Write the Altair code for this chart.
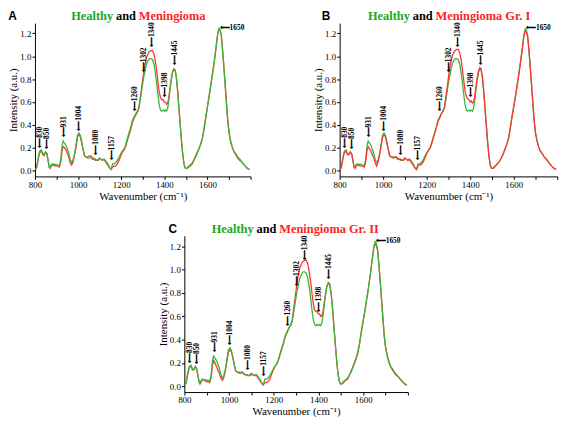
import altair as alt
import pandas as pd

# ---------------- data ----------------
wavenumber = [803, 808, 815, 822, 830, 836, 842, 849, 855, 860, 866, 870, 876, 882, 890, 898,
              906, 913, 920, 926, 931, 937, 944, 950, 957, 963, 970, 976, 983, 990, 997, 1004,
              1010, 1017, 1024, 1030, 1037, 1045, 1052, 1060, 1066, 1073, 1080, 1087, 1094, 1100,
              1107, 1113, 1120, 1127, 1134, 1141, 1148, 1153, 1160, 1167, 1174, 1182, 1190, 1198,
              1205, 1213, 1220, 1228, 1236, 1244, 1252, 1260, 1268, 1275, 1282, 1290, 1297, 1303,
              1310, 1317, 1324, 1331, 1338, 1345, 1352, 1358, 1364, 1370, 1376, 1382, 1388, 1394,
              1400, 1405, 1410, 1415, 1420, 1426, 1432, 1438, 1444, 1450, 1456, 1462, 1468, 1474,
              1480, 1486, 1492, 1498, 1505, 1512, 1520, 1530, 1540, 1550, 1560, 1568, 1576, 1584,
              1592, 1600, 1608, 1616, 1624, 1632, 1640, 1647, 1653, 1658, 1664, 1670, 1676, 1682,
              1688, 1694, 1700, 1706, 1714, 1722, 1731, 1740, 1750, 1758, 1766, 1775, 1785, 1795]

healthy = [0.01, 0.03, 0.11, 0.17, 0.18, 0.15, 0.14, 0.165, 0.15, 0.10, 0.03, 0.03, 0.05, 0.06, 0.055, 0.055,
           0.05, 0.04, 0.10, 0.22, 0.26, 0.24, 0.22, 0.19, 0.15, 0.10, 0.07, 0.09, 0.14, 0.22, 0.31, 0.33,
           0.31, 0.25, 0.18, 0.13, 0.12, 0.11, 0.11, 0.12, 0.10, 0.10, 0.09, 0.09, 0.10, 0.11,
           0.10, 0.09, 0.10, 0.09, 0.07, 0.05, 0.02, 0.01, 0.06, 0.06, 0.07, 0.09, 0.12, 0.15,
           0.17, 0.19, 0.22, 0.28, 0.33, 0.38, 0.44, 0.47, 0.50, 0.52, 0.55, 0.64, 0.73, 0.80,
           0.87, 0.93, 0.96, 0.98, 0.98, 0.97, 0.93, 0.86, 0.77, 0.67, 0.58, 0.53, 0.52, 0.53,
           0.52, 0.53, 0.52, 0.54, 0.60, 0.70, 0.79, 0.86, 0.89, 0.88, 0.81, 0.69, 0.54, 0.39,
           0.25, 0.13, 0.05, 0.02, 0.02, 0.04, 0.05, 0.07, 0.10, 0.14, 0.19, 0.23, 0.28, 0.37,
           0.47, 0.56, 0.65, 0.75, 0.85, 0.96, 1.08, 1.19, 1.24, 1.23, 1.18, 1.05, 0.90, 0.74,
           0.58, 0.43, 0.33, 0.27, 0.21, 0.17, 0.15, 0.12, 0.10, 0.08, 0.06, 0.04, 0.02, 0.01]

meningioma = [0.01, 0.03, 0.10, 0.16, 0.17, 0.14, 0.13, 0.16, 0.15, 0.10, 0.04, 0.02, 0.04, 0.05, 0.045, 0.04,
              0.04, 0.03, 0.08, 0.18, 0.21, 0.20, 0.18, 0.15, 0.12, 0.07, 0.05, 0.07, 0.13, 0.20, 0.29, 0.32,
              0.30, 0.24, 0.18, 0.13, 0.12, 0.12, 0.13, 0.13, 0.11, 0.11, 0.10, 0.09, 0.09, 0.11,
              0.10, 0.09, 0.10, 0.08, 0.06, 0.04, 0.02, 0.01, 0.03, 0.04, 0.04, 0.06, 0.09, 0.13,
              0.16, 0.18, 0.21, 0.26, 0.31, 0.36, 0.42, 0.46, 0.49, 0.51, 0.55, 0.66, 0.76, 0.84,
              0.92, 0.99, 1.02, 1.04, 1.05, 1.05, 1.02, 0.96, 0.88, 0.78, 0.69, 0.64, 0.62, 0.62,
              0.60, 0.60, 0.58, 0.59, 0.63, 0.72, 0.80, 0.86, 0.89, 0.88, 0.81, 0.69, 0.54, 0.39,
              0.25, 0.13, 0.05, 0.02, 0.02, 0.03, 0.04, 0.06, 0.11, 0.15, 0.19, 0.23, 0.28, 0.36,
              0.46, 0.56, 0.66, 0.76, 0.86, 0.96, 1.08, 1.19, 1.24, 1.23, 1.19, 1.06, 0.91, 0.76,
              0.60, 0.45, 0.34, 0.27, 0.21, 0.17, 0.14, 0.11, 0.09, 0.08, 0.06, 0.04, 0.02, 0.01]

meningioma_gr1 = [0.01, 0.03, 0.11, 0.16, 0.17, 0.14, 0.14, 0.16, 0.15, 0.10, 0.04, 0.02, 0.04, 0.05, 0.045, 0.04,
                  0.04, 0.03, 0.08, 0.18, 0.21, 0.19, 0.17, 0.14, 0.11, 0.07, 0.04, 0.07, 0.13, 0.21, 0.29, 0.31,
                  0.30, 0.24, 0.18, 0.13, 0.12, 0.12, 0.12, 0.12, 0.11, 0.10, 0.10, 0.09, 0.09, 0.11,
                  0.10, 0.09, 0.10, 0.08, 0.06, 0.04, 0.02, 0.01, 0.04, 0.05, 0.05, 0.07, 0.10, 0.14,
                  0.17, 0.19, 0.22, 0.27, 0.32, 0.37, 0.43, 0.46, 0.50, 0.52, 0.56, 0.67, 0.77, 0.86,
                  0.94, 1.00, 1.03, 1.05, 1.06, 1.06, 1.03, 0.97, 0.89, 0.79, 0.70, 0.65, 0.63, 0.62,
                  0.60, 0.61, 0.59, 0.60, 0.64, 0.73, 0.81, 0.87, 0.90, 0.89, 0.82, 0.70, 0.55, 0.40,
                  0.25, 0.13, 0.05, 0.02, 0.02, 0.03, 0.05, 0.07, 0.10, 0.14, 0.19, 0.23, 0.28, 0.37,
                  0.47, 0.56, 0.65, 0.75, 0.85, 0.96, 1.07, 1.18, 1.22, 1.21, 1.17, 1.05, 0.90, 0.75,
                  0.59, 0.44, 0.33, 0.27, 0.21, 0.17, 0.15, 0.12, 0.10, 0.08, 0.06, 0.04, 0.02, 0.01]

meningioma_gr2 = [0.01, 0.03, 0.10, 0.16, 0.17, 0.14, 0.14, 0.17, 0.15, 0.10, 0.04, 0.02, 0.04, 0.06, 0.05, 0.04,
                  0.04, 0.03, 0.08, 0.18, 0.22, 0.20, 0.17, 0.14, 0.11, 0.07, 0.05, 0.07, 0.13, 0.21, 0.29, 0.31,
                  0.30, 0.24, 0.18, 0.13, 0.12, 0.12, 0.12, 0.12, 0.11, 0.10, 0.10, 0.09, 0.09, 0.10,
                  0.10, 0.09, 0.10, 0.08, 0.06, 0.04, 0.02, 0.01, 0.03, 0.03, 0.04, 0.06, 0.10, 0.14,
                  0.17, 0.19, 0.22, 0.27, 0.32, 0.37, 0.43, 0.46, 0.50, 0.52, 0.56, 0.68, 0.78, 0.87,
                  0.96, 1.02, 1.05, 1.07, 1.08, 1.08, 1.05, 0.99, 0.91, 0.81, 0.72, 0.66, 0.64, 0.64,
                  0.62, 0.62, 0.60, 0.60, 0.64, 0.72, 0.80, 0.86, 0.88, 0.87, 0.80, 0.69, 0.54, 0.39,
                  0.25, 0.13, 0.05, 0.02, 0.02, 0.03, 0.05, 0.06, 0.10, 0.15, 0.20, 0.24, 0.29, 0.37,
                  0.47, 0.56, 0.65, 0.75, 0.85, 0.96, 1.08, 1.18, 1.22, 1.21, 1.17, 1.05, 0.90, 0.75,
                  0.59, 0.44, 0.34, 0.28, 0.22, 0.17, 0.14, 0.11, 0.09, 0.08, 0.06, 0.04, 0.02, 0.01]

peak_labels = ["830", "850", "931", "1004", "1080", "1157", "1260", "1302", "1340", "1398", "1445"]
peak_wn = [825, 858, 935, 1006, 1083, 1158, 1262, 1304, 1342, 1402, 1448]
peak_tip = [0.20, 0.19, 0.29, 0.35, 0.14, 0.09, 0.52, 0.86, 1.08, 0.64, 0.92]
top_label = ["1650"]
top_wn = [1656]
top_tip = [1.245]

y_ticks = [0.0, 0.2, 0.4, 0.6, 0.8, 1.0, 1.2]
x_ticks = [800, 900, 1000, 1100, 1200, 1300, 1400, 1500, 1600, 1700, 1800]

panel_letters = ["A", "B", "C"]
panel_names = ["Meningioma", "Meningioma Gr. I", "Meningioma Gr. II"]
healthy_name = "Healthy"
and_word = "and"

# ---------------- style ----------------
GREEN_LINE = "#3ab53a"
RED_LINE = "#ff3535"
GREEN_TXT = "#1aa81a"
RED_TXT = "#ff2222"
SERIF = "Liberation Serif"
SANS = "Liberation Sans"
ARROW = "⟵"

XSCALE = alt.Scale(domain=[800, 1800], nice=False, zero=False)
XAXIS = alt.Axis(values=x_ticks, format="d", labelFlush=False, labelOverlap=False,
                 labelExpr="datum.value % 200 == 0 && datum.value < 1800 ? datum.label : ''")
YSCALE = alt.Scale(domain=[-0.05, 1.29], nice=False, zero=False)
YAXIS = alt.Axis(values=y_ticks, format=".1f", labelOverlap=False)
XT = "Wavenumber (cm⁻¹)"
YT = "Intensity (a.u.)"


def xe(field):
    return alt.X(field, title=XT, scale=XSCALE, axis=XAXIS)


def ye(field):
    return alt.Y(field, title=YT, scale=YSCALE, axis=YAXIS)


def panel(red, letter, name, width, height, red_on_top, and_offset, letter_x):
    df = pd.DataFrame({"wn": wavenumber, "healthy": healthy, "men": red})
    base = alt.Chart(df)
    g = base.mark_line(color=GREEN_LINE, strokeWidth=1.3).encode(x=xe("wn:Q"), y=ye("healthy:Q"))
    r = base.mark_line(color=RED_LINE, strokeWidth=1.3).encode(x=xe("wn:Q"), y=ye("men:Q"))
    lines = [g, r] if red_on_top else [r, g]

    pk = pd.DataFrame({"wn": peak_wn, "tip": peak_tip, "lab": [ARROW + s for s in peak_labels]})
    peaks = alt.Chart(pk).mark_text(angle=270, align="left", baseline="middle", font=SERIF,
                                    fontWeight="bold", fontSize=7.5, color="black").encode(
        x=xe("wn:Q"), y=ye("tip:Q"), text="lab:N")
    tp = pd.DataFrame({"wn": top_wn, "tip": top_tip, "lab": [ARROW + s for s in top_label]})
    top = alt.Chart(tp).mark_text(align="left", baseline="middle", font=SERIF,
                                  fontWeight="bold", fontSize=7.5, color="black").encode(
        x=xe("wn:Q"), y=ye("tip:Q"), text="lab:N")

    cx = width / 2 + and_offset
    ty = -7
    one = pd.DataFrame({"k": [0]})
    t_and = alt.Chart(one).mark_text(text=and_word, align="center", baseline="middle", font=SERIF,
                                     fontWeight="bold", fontSize=12.5, color="black").encode(
        x=alt.value(cx), y=alt.value(ty))
    t_h = alt.Chart(one).mark_text(text=healthy_name, align="right", baseline="middle", font=SERIF,
                                   fontWeight="bold", fontSize=12.5, color=GREEN_TXT).encode(
        x=alt.value(cx - 13), y=alt.value(ty))
    t_m = alt.Chart(one).mark_text(text=name, align="left", baseline="middle", font=SERIF,
                                   fontWeight="bold", fontSize=12.5, color=RED_TXT).encode(
        x=alt.value(cx + 13), y=alt.value(ty))
    t_l = alt.Chart(one).mark_text(text=letter, align="left", baseline="middle", font=SANS,
                                   fontWeight="bold", fontSize=12, color="black").encode(
        x=alt.value(letter_x), y=alt.value(ty))

    return alt.layer(*lines, peaks, top, t_h, t_and, t_m, t_l).properties(width=width, height=height)


pa = panel(meningioma, panel_letters[0], panel_names[0], 218, 155, False, -17, -27)
pb = panel(meningioma_gr1, panel_letters[1], panel_names[1], 220, 155, True, -26, -18)
pc = panel(meningioma_gr2, panel_letters[2], panel_names[2], 226, 158, False, -30, -16)

chart = alt.vconcat(
    alt.hconcat(pa, pb, spacing=60),
    pc,
    spacing=22,
    center=True,
).properties(padding=0).configure_view(stroke=None).configure_axis(
    grid=False,
    labelFont=SERIF, titleFont=SERIF,
    labelFontSize=9, titleFontSize=11, titleFontWeight="normal",
    labelColor="black", titleColor="black",
    domainColor="black", tickColor="black",
    tickSize=3, labelPadding=1, titlePadding=1,
)

chart.save("out.html", embed_options={"renderer": "svg", "actions": False})
